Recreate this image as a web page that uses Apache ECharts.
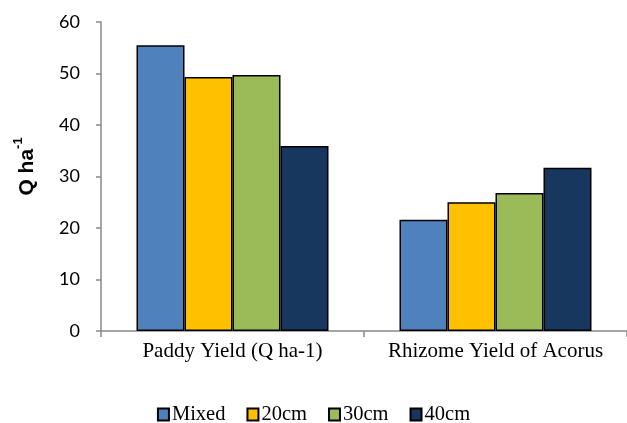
<!DOCTYPE html>
<html>
<head>
<meta charset="utf-8">
<script src="https://cdn.jsdelivr.net/npm/echarts@6/dist/echarts.min.js"></script>
<style>
  html, body { margin: 0; padding: 0; background: #fff; }
  #chart { width: 627px; height: 423px; }
</style>
</head>
<body>
<div id="chart"></div>
<script>
// Yield groups on the x axis
const categories = ['Paddy Yield (Q ha-1)', 'Rhizome Yield of Acorus'];

// Planting treatments (one series each)
const seriesNames = ['Mixed', '20cm', '30cm', '40cm'];
const mixed = [55.5, 21.6];
const cm20 = [49.3, 25.0];
const cm30 = [49.7, 26.8];
const cm40 = [35.9, 31.7];
const seriesValues = [mixed, cm20, cm30, cm40];
const seriesColors = ['#4F81BD', '#FFC000', '#9BBB59', '#17375E'];

// Y axis range
const yMin = 0, yMax = 60, yStep = 10;

const chart = echarts.init(document.getElementById('chart'));

const axisGray = '#898989';

chart.setOption({
  animation: false,
  backgroundColor: '#ffffff',
  grid: { left: 101, right: 0, top: 22, bottom: 92, containLabel: false },
  legend: {
    data: seriesNames,
    left: 'center',
    top: 404,
    padding: 0,
    itemWidth: 11,
    itemHeight: 12,
    itemGap: 21,
    icon: 'rect',
    textStyle: { fontFamily: 'Liberation Serif', fontSize: 20.5, color: '#000', padding: [0, 0, 0, -2] }
  },
  xAxis: {
    type: 'category',
    data: categories,
    axisLine: { lineStyle: { color: axisGray, width: 1.5 } },
    axisTick: { show: true, length: 6, alignWithLabel: false, lineStyle: { color: axisGray, width: 1.5 } },
    axisLabel: { interval: 0, fontFamily: 'Liberation Serif', fontSize: 21, color: '#000', margin: 10 }
  },
  yAxis: {
    type: 'value',
    min: yMin, max: yMax, interval: yStep,
    name: '{a|Q ha}{s|-1}',
    nameLocation: 'middle',
    nameRotate: 90,
    nameGap: 63,
    nameTextStyle: {
      padding: [0, 0, 0, 20],
      rich: {
        a: { fontFamily: 'Liberation Sans', fontWeight: 'bold', fontSize: 21, color: '#000', lineHeight: 26, verticalAlign: 'bottom' },
        s: { fontFamily: 'Liberation Sans', fontWeight: 'bold', fontSize: 13, color: '#000', lineHeight: 26, verticalAlign: 'top' }
      }
    },
    axisLine: { show: true, lineStyle: { color: axisGray, width: 1.5 } },
    axisTick: { show: true, length: 5, lineStyle: { color: axisGray, width: 1.5 } },
    splitLine: { show: false },
    axisLabel: { fontFamily: 'Lato', fontSize: 18, color: '#000', margin: 21 }
  },
  series: seriesNames.map((name, i) => ({
    name: name,
    type: 'bar',
    data: seriesValues[i],
    barGap: '0%',
    barCategoryGap: '27%',
    itemStyle: { color: seriesColors[i], borderColor: '#000', borderWidth: 1.5 }
  }))
});
</script>
</body>
</html>
